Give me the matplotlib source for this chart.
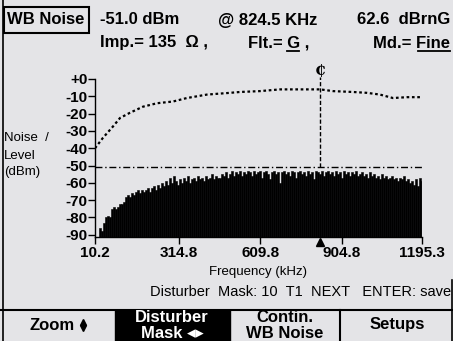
import numpy as np
import matplotlib
matplotlib.use("Agg")
import matplotlib.pyplot as plt
from matplotlib.patches import Rectangle
from matplotlib.lines import Line2D

W, H = 453, 341
BG = "#e4e4e7"
FONT = ["Liberation Sans", "DejaVu Sans"]

# --- data ---
NOISE_START_KHZ = 28.3
NOISE_STEP_KHZ = 7.25
NOISE_DBM = [
    -86, -88, -83, -80, -79, -80, -75, -74, -75, -74,
    -72, -72, -71, -68, -67, -68, -66, -67, -65, -64,
    -66, -64, -65, -64, -63, -65, -63, -62, -64, -61,
    -63, -60, -62, -59, -61, -57, -60, -56, -59, -61,
    -58, -60, -57, -59, -56, -60, -58, -57, -59, -56,
    -58, -57, -59, -56, -58, -57, -55, -58, -56, -57,
    -57, -55, -56, -54, -57, -55, -53, -56, -54, -55,
    -53, -56, -54, -55, -53, -54, -56, -53, -55, -54,
    -53, -57, -54, -53, -55, -58, -54, -53, -55, -54,
    -60, -54, -53, -55, -54, -56, -53, -54, -57, -54,
    -53, -55, -54, -56, -53, -55, -54, -58, -53, -54,
    -55, -53, -56, -54, -53, -55, -54, -56, -53, -55,
    -54, -57, -53, -55, -54, -56, -54, -55, -53, -56,
    -55, -54, -56, -55, -57, -54, -56, -55, -57, -56,
    -58, -55, -57, -56, -58, -57, -56, -58, -57, -59,
    -57, -58, -56, -59, -58, -60, -59, -61, -58, -62,
    -57, -59,
]
MASK_KHZ = [10.2, 39, 75, 101, 137, 184, 235, 293, 343, 416, 499, 536,
            608, 681, 753, 826, 873, 945, 996, 1043, 1090, 1141, 1195.3]
MASK_DBM = [-40, -34, -27.5, -22.5, -19.5, -16, -14, -13, -11, -9, -8, -7.5,
            -7, -6, -6, -6, -7, -7.5, -8, -9, -11, -10.5, -10.5]
THRESHOLD_DBM = -51.0
CURSOR_KHZ = 824.5

XTICKS = [10.2, 314.8, 609.8, 904.8, 1195.3]
XTICK_LABELS = ["10.2", "314.8", "609.8", "904.8", "1195.3"]
YTICKS = [0, -10, -20, -30, -40, -50, -60, -70, -80, -90]
YTICK_LABELS = ["+0", "-10", "-20", "-30", "-40", "-50", "-60", "-70", "-80", "-90"]


def fx(x):
    return x / W


def fy(y):
    return 1 - y / H


def ptext(x, y, s, **kw):
    kw.setdefault("family", FONT)
    kw.setdefault("va", "center")
    fig.text(fx(x), fy(y), s, **kw)


def pline(xs, ys, **kw):
    fig.add_artist(Line2D([fx(v) for v in xs], [fy(v) for v in ys],
                          transform=fig.transFigure, **kw))


fig = plt.figure(figsize=(W / 100, H / 100), dpi=100, facecolor=BG)

# --- plot area ---
ax = fig.add_axes([fx(95), fy(236.5), (422 - 95) / W, (236.5 - 79) / H])
ax.set_facecolor("none")

freqs = NOISE_START_KHZ + NOISE_STEP_KHZ * np.arange(len(NOISE_DBM))
noise = np.array(NOISE_DBM)
ax.bar(freqs, noise + 91, bottom=-91, width=NOISE_STEP_KHZ,
       color="black", edgecolor="black", linewidth=0.4)
ax.plot(MASK_KHZ, MASK_DBM, color="black", lw=1.6, linestyle=(0, (1.2, 1.2)))
ax.axhline(THRESHOLD_DBM, color="black", lw=1.0, linestyle=(0, (5, 2, 1, 2)))
ax.plot([CURSOR_KHZ, CURSOR_KHZ], [THRESHOLD_DBM, 1.2], color="black",
        lw=1.0, linestyle=(0, (3, 1.5)), clip_on=False)
ax.text(CURSOR_KHZ, 4.8, "₵", ha="center", va="center", fontsize=11,
        fontweight="bold", family=["DejaVu Serif", "DejaVu Sans"], clip_on=False)
ax.plot(CURSOR_KHZ, -0.036, marker="^", color="black", markersize=5.5,
        transform=ax.get_xaxis_transform(), clip_on=False)

ax.set_xlim(10.2, 1195.3)
ax.set_ylim(-91, 0)
ax.set_xticks(XTICKS)
ax.set_xticklabels(XTICK_LABELS)
ax.set_yticks(YTICKS)
ax.set_yticklabels(YTICK_LABELS)
for s in ("top", "right"):
    ax.spines[s].set_visible(False)
for s in ("left", "bottom"):
    ax.spines[s].set_linewidth(1.0)
ax.tick_params(axis="x", direction="out", length=5, width=1, pad=2,
               labelsize=11)
ax.tick_params(axis="y", direction="out", length=5, width=1, pad=0.5,
               labelsize=11)
for lab in ax.get_xticklabels() + ax.get_yticklabels():
    lab.set_family(FONT)
    lab.set_fontweight("bold")

# --- y label at far left ---
ptext(4, 138, "Noise  /", fontsize=9.5)
ptext(4, 156, "Level", fontsize=9.5)
ptext(4, 172, "(dBm)", fontsize=9.5)

# --- header ---
fig.add_artist(Rectangle((fx(3.5), fy(33)), 85 / W, 26 / H, fill=False,
                         edgecolor="black", lw=1.5, transform=fig.transFigure))
ptext(46, 20, "WB Noise", fontsize=12, fontweight="bold", ha="center")
ptext(100, 20, "-51.0 dBm", fontsize=12, fontweight="bold")
ptext(218, 20, "@ 824.5 KHz", fontsize=12, fontweight="bold")
ptext(450, 20, "62.6  dBrnG", fontsize=12, fontweight="bold", ha="right")
ptext(100, 43, "Imp.= 135  Ω ,", fontsize=12, fontweight="bold")
ptext(248, 43, "Flt.= G ,", fontsize=12, fontweight="bold")
pline([287, 299], [51, 51], color="black", lw=1.3)
ptext(450, 43, "Md.= Fine", fontsize=12, fontweight="bold", ha="right")
pline([418, 450], [51, 51], color="black", lw=1.3)

# --- footer texts ---
ptext(258, 272, "Frequency (kHz)", fontsize=9.5, ha="center")
ptext(451, 292, "Disturber  Mask: 10  T1  NEXT   ENTER: save", fontsize=10.5,
      ha="right")

# --- soft keys ---
pline([0, W], [310, 310], color="black", lw=1.5)
fig.add_artist(Rectangle((fx(115), fy(H)), 115 / W, 31 / H, facecolor="black",
                         edgecolor="black", transform=fig.transFigure))
pline([340, 340], [310, H], color="black", lw=1.5)
ptext(52, 325, "Zoom", fontsize=12, fontweight="bold", ha="center")
fig.add_artist(Line2D([fx(83)], [fy(322)], marker="^", color="black",
                      markersize=4.5, transform=fig.transFigure))
fig.add_artist(Line2D([fx(83)], [fy(328)], marker="v", color="black",
                      markersize=4.5, transform=fig.transFigure))
ptext(172, 318, "Disturber", fontsize=12, fontweight="bold", ha="center",
      color="white")
ptext(172, 333.5, "Mask ◂▸", fontsize=12, fontweight="bold", ha="center",
      color="white")
ptext(285, 318, "Contin.", fontsize=12, fontweight="bold", ha="center")
ptext(285, 333.5, "WB Noise", fontsize=12, fontweight="bold", ha="center")
ptext(397, 325, "Setups", fontsize=12, fontweight="bold", ha="center")

# screen frame
pline([2.5, 2.5], [0, H], color="black", lw=1.2)
pline([451.5, 451.5], [280, H], color="black", lw=1.2)

fig.savefig("out.png", dpi=100, facecolor=BG)
